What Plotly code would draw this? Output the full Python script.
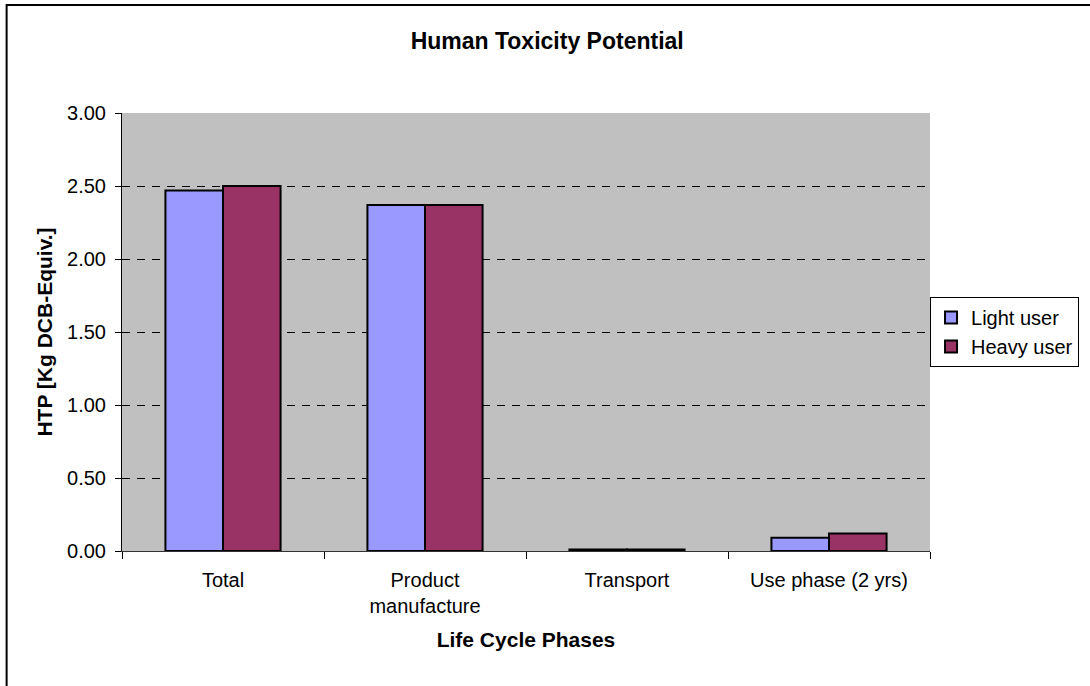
import plotly.graph_objects as go

phases = ["Total", "Product<br>manufacture", "Transport", "Use phase (2 yrs)"]
light_user = [2.47, 2.37, 0.01, 0.09]
heavy_user = [2.50, 2.37, 0.01, 0.12]

fig = go.Figure()
fig.add_trace(go.Bar(x=phases, y=light_user, name="Light user",
                     marker=dict(color="#9999FF", line=dict(color="black", width=2))))
fig.add_trace(go.Bar(x=phases, y=heavy_user, name="Heavy user",
                     marker=dict(color="#993366", line=dict(color="black", width=2))))

# outer chart border (right/bottom edges fall outside the picture)
fig.add_shape(type="rect", xref="paper", yref="paper",
              x0=-0.1428, x1=1.3, y0=-0.6, y1=1.2466,
              line=dict(color="black", width=2))

fig.update_layout(
    width=1090, height=686,
    margin=dict(l=122, r=159, t=113, b=135),
    paper_bgcolor="white",
    plot_bgcolor="#C0C0C0",
    font=dict(family="Liberation Sans, Arial", size=20, color="black"),
    title=dict(text="<b>Human Toxicity Potential</b>", xref="container", x=0.502,
               xanchor="center", y=0.940, yanchor="middle", font=dict(size=23)),
    barmode="group",
    bargap=0.43,
    bargroupgap=0,
    xaxis=dict(
        title=dict(text="<b>Life Cycle Phases</b>", font=dict(size=21), standoff=16),
        showline=True, linecolor="#333333", linewidth=1,
        ticks="outside", tickson="boundaries", ticklen=7, tickcolor="black",
        ticklabelstandoff=11,
        showgrid=False, automargin=False,
    ),
    yaxis=dict(
        title=dict(text="<b>HTP [Kg DCB-Equiv.]</b>", font=dict(size=21), standoff=8),
        range=[0, 3], dtick=0.5, tickformat=".2f",
        showline=True, linecolor="black", linewidth=1,
        ticks="outside", ticklen=6, tickcolor="black",
        ticklabelstandoff=5,
        showgrid=True, gridcolor="black", griddash="8px,7px", gridwidth=1,
        zeroline=False, automargin=False,
    ),
    legend=dict(
        x=0.9988, xanchor="left", y=0.580, yanchor="top",
        bordercolor="black", borderwidth=1,
        font=dict(size=20),
    ),
)

fig.write_html("out.html", config={"displayModeBar": False},
               post_script="document.body.style.margin='0px';")
